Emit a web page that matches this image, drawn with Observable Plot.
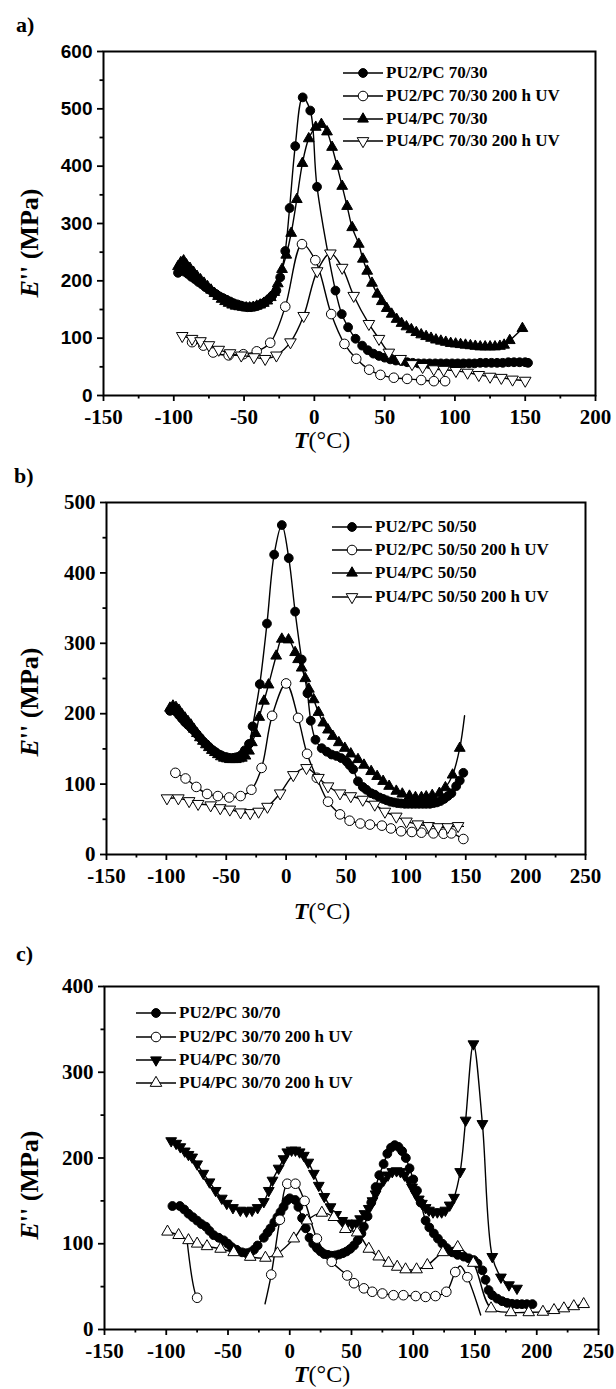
<!DOCTYPE html>
<html>
<head>
<meta charset="utf-8">
<script src="https://cdn.jsdelivr.net/npm/d3@7"></script>
<script src="https://cdn.jsdelivr.net/npm/@observablehq/plot@0.6"></script>
<style>
  body { margin: 0; background: #fff; }
  #root { position: relative; width: 616px; height: 1389px; overflow: hidden; font-family: "Liberation Serif", "Times New Roman", serif; color: #000; background: #fff; }
  .panel { position: absolute; left: 0; width: 616px; }
  .abs { position: absolute; white-space: nowrap; line-height: 1; }
  .plabel { font-weight: bold; font-size: 22px; transform: translate(0, -50%); }
  .ytitle { font-weight: bold; font-size: 26px; transform: translate(-50%, -50%) rotate(-90deg); }
  .xtitle { font-size: 24px; transform: translate(-50%, -50%); }
  .legrow { position: absolute; display: flex; align-items: center; transform: translate(0, -50%); font-weight: bold; font-size: 17px; white-space: nowrap; }
  .legrow svg { display: block; margin-right: 3px; }
</style>
</head>
<body>
<div id="root"></div>
<script>
// ---------------- DATA ----------------
// Panel a) 70/30
const aLegend = ["PU2/PC 70/30", "PU2/PC 70/30 200 h UV", "PU4/PC 70/30", "PU4/PC 70/30 200 h UV"];
const aXTicks = [-150, -100, -50, 0, 50, 100, 150, 200];
const aYTicks = [0, 100, 200, 300, 400, 500, 600];

const aT_PU2 = [-97,-95,-92.5,-90,-87.5,-85,-82.5,-80,-77.5,-75,-72.5,-70,-67.5,-65,-62.5,-60,-57.5,-55,-52.5,-50,-47.5,-45,-42.5,-40,-37.5,-35,-32.5,-30,-27,-24.3,-20.7,-17.6,-13.6,-8.3,-2.9,1.9,15,19.5,24,29.3,34,38,42,46,50,54,58,62,66,70,74,78,82,86,90,94,98,102,106,110,114,118,122,126,130,134,138,142,146,150,152];
const aE_PU2 = [214,218,216,212,207,203,198,194,189,185,181,177,173,170,167,164,161,159,157,155,154,154,155,157,160,163,168,174,183,206,252,327,435,520,497,364,183,142,119,99,87,79,73,69,66,63,61,60,58,57,56,56,56,56,56,56,56,56,56,56,56,57,57,57,57,57,58,58,58,58,57];

const aT_PU2UV = [-87,-79,-72,-61,-50.5,-41,-31.4,-20.7,-8.8,0.7,12,21.4,29.8,39,47,56.5,66,76,85,93];
const aE_PU2UV = [93,87,75,70,72,77,92,155,264,236,142,90,64,45,36,31,29,27,25,25];

const aT_PU4 = [-97,-95,-93,-91,-88.5,-86,-83.5,-81,-78.5,-76,-73.5,-71,-68.5,-66,-63.5,-61,-58.5,-56,-53.5,-51,-48.5,-46,-43.5,-41,-38.5,-36,-33.5,-31,-28.5,-26,-23,-20,-16.5,-12.5,-8.5,-4,1,5,9,12.6,16.2,19.8,23.3,26.9,31.6,34.5,37.6,41,44.8,48,51.5,55,58.5,62,65.5,69,72.5,76,79.5,83,86.5,90,93.5,97,100.5,104,107.5,111,114.5,118,121.5,125,128.5,132,135,139,148];
const aE_PU4 = [225,232,235,228,222,215,208,202,196,190,184,178,173,168,164,161,158,156,155,154,153,153,154,156,158,161,165,171,180,195,220,245,283,342,405,448,468,473,460,433,400,365,330,293,264,238,217,196,177,164,152,142,133,126,120,115,110,106,103,100,97,95,93,91,90,89,88,87,86,85,85,85,85,86,88,96,117];

const aT_PU4UV = [-94,-87,-81,-75,-68,-60,-52,-43,-35,-27,-17,-7.6,2,11.4,19.8,28,38.8,46,53,61.4,69.5,77,85,92,100.7,109,117,125,133,141,150];
const aE_PU4UV = [104,99,95,88,80,74,70,67,64,70,93,139,217,248,223,174,125,99,75,64,55,50,46,45,43,40,36,33,31,28,26];

// Panel b) 50/50
const bLegend = ["PU2/PC 50/50", "PU2/PC 50/50 200 h UV", "PU4/PC 50/50", "PU4/PC 50/50 200 h UV"];
const bXTicks = [-150, -100, -50, 0, 50, 100, 150, 200, 250];
const bYTicks = [0, 100, 200, 300, 400, 500];

const bT_PU2 = [-97,-94.5,-92,-89.5,-87,-84.5,-82,-79.5,-77,-74.5,-72,-69.5,-67,-64.5,-62,-59.5,-57,-54.5,-52,-49.5,-47,-44.5,-42,-39.5,-37,-34.5,-31,-28,-22,-16,-10,-3.6,2.2,7.5,13,17.8,20.6,24.5,29.7,34,38,42,46,50.5,53,56,60,64,67,71,74,78,81,84,87,90,93,96,99,102,105,108,111,114,117,120,123,126,129,132,135,138,142,145,148];
const bE_PU2 = [204,206,203,198,193,188,184,180,176,171,166,161,157,153,149,146,143,141,139,138,137,137,138,139,142,148,157,182,242,328,426,468,421,345,277,229,190,163,151,146,142,140,137,132,127,121,104,96,92,87,85,81,79,77,75,74,73,72.5,72,72,72,72,72,72,72,72,73,74,76,79,83,87,97,105,116];

const bT_PU2UV = [-92.5,-84,-75,-66,-57,-47.5,-38,-29,-20.5,-11.7,0,10,17.5,25.6,35,45,53,62,70,80,87.5,96,105,113,123,131.5,138,148];
const bE_PU2UV = [116,108,96,86,83,81,83,92,123,197,243,194,143,109,75,57,48,44,42.5,41,37,33,32,31,30,29.5,30,22];

const bT_PU4 = [-97,-94.5,-92,-89.5,-87,-84.5,-82,-79.5,-77,-74.5,-72,-69.5,-67,-64.5,-62,-59.5,-57,-54.5,-52,-49.5,-47,-44.5,-42,-39.5,-37,-34,-31,-28.6,-25.5,-22.5,-18.5,-14.7,-8.3,-3.6,2,7.5,10,13,16,19,23,27,31,35,39,44,49,54,60,65,71,76,81,86,92,97,103,108,113,117,122,128,133,139,145,149];
const bE_PU4 = [208,211,209,205,199,194,189,184,178,172,166,161,156,152,148,145,142,139,137,136,135,135,135,136,137,140,147,159,172,195,218,241,282,306,305,287,277,265,250,235,220,202,187,177,168,159,151,143,135,127,118,111,104,97,90,86,83,81,81,82,84,87,95,113,151,197];
const bUnmarked_PU4 = [149];

const bT_PU4UV = [-99.5,-90,-81,-73.5,-63,-55,-47,-38,-30,-23,-15.6,-5,6,17,27,35,45,54,64,74,82.5,92,100.5,110,119,127,135,143.6,148];
const bE_PU4UV = [80,80,76,72,70,66,64,60,59,61,68,87,113,123,109,97,87,83,78,71,61,54,47,43,40.6,39,39,40.6,40];
const bUnmarked_PU4UV = [148];

// Panel c) 30/70
const cLegend = ["PU2/PC 30/70", "PU2/PC 30/70 200 h UV", "PU4/PC 30/70", "PU4/PC 30/70 200 h UV"];
const cXTicks = [-150, -100, -50, 0, 50, 100, 150, 200, 250];
const cYTicks = [0, 100, 200, 300, 400];

const cT_PU2 = [-95,-89,-85.5,-82,-78.5,-75,-71.5,-68,-65,-61.6,-57.5,-53.5,-50,-47,-43,-38.6,-35,-32,-29,-26,-21,-18,-15.6,-12.5,-10,-7.5,-5,-2.5,0,4.5,7,10,13,16,19,22,25,28,31,34,37,40,43,46,49,52,55,58,60,63,66,69.5,72.5,76,79,82,85,88,91,94,97,100,103,106,110,113,116.7,120,123.6,127,131.6,136,141,145,149,152,156,158.5,161,164,168,172,176,180,184,188,192,196.5];
const cE_PU2 = [144,144,140,135,131,127,123,120,115,110,107,104,100,96,93,90,89,90,93,98,107,113,118,125,131,137,143,150,153,151,143,130,118,107,100,95,91,88,87,86,86.5,87.5,89,91,94,98,104,112,120,132,148,166,180,193,205,212,215,213,208,200,188,175,162,148,127,119,112,106,100,95,90,87,85,83,81,77,69,58,46,40,36,33,31,30,29.6,29.5,29.5,29.6];

const cT_PU2UV = [-83,-75,-72,NaN,-20,-15,-8,-2,4.6,12,22,34,46.5,52,60,66.8,75,84,92,102,110,118,126.8,134,138,143.8,154.6];
const cE_PU2UV = [102,37,35,NaN,30,64,128,170,170,150,106,79,63,54,48,44,42,40,40,39,38,39,44,67,74,61,17];
const cUnmarked_PU2UV = [-83,-72,-20,138,154.6];

const cT_PU4 = [-96,-92,-88.6,-85,-82,-79,-75,-70,-65,-60,-55,-51,-46,-40,-35,-30.5,-26,-21,-17,-14,-9,-5,-2,1.5,4.6,8,11.4,15,19.5,23.5,28,33,37.5,42.5,46.5,50.6,54,57,60.5,64,67,69.5,72.5,76,79.5,83,86.5,89.7,93,96.5,99,102,104.5,107,110,112.7,116,119.5,123,126,129.5,133,138,142.4,148.7,156,164,171,177.5,184];
const cE_PU4 = [220,217,213,208,204,201,193,182,172,162,153,147,142,139,138,139,142,149,162,174,188,199,207,209,209,207,203,195,182,168,155,143,134,127,124,123,124,129,135,141,150,158,167,174,180,184,185,184,180,174,166,158,152,147,142,139,137,137,137,139,145,154,184,244,333,240,85,61,52,48];

const cT_PU4UV = [-99,-90,-82,-75,-67,-56,-45.4,-32,-19.7,-10,3.3,14,26,35.7,45,54.6,64,72,80,87,93.8,102.7,111.4,124,136,148.6,163,179,193.5,205,214,222,230,238];
const cE_PU4UV = [114,110,104,100,97,94,90,84.6,83.5,88.6,106,127,136,131,117,113,94,85,77.6,73,70,70,75,90,96,77.6,24.5,20,20,20.5,22.5,24.5,27,29.5];

// ---------------- SYMBOLS ----------------
const sqrt3 = Math.sqrt(3);
const triangleDown = {
  draw(context, size) {
    const y = -Math.sqrt(size / (sqrt3 * 3));
    context.moveTo(0, -y * 2);
    context.lineTo(-sqrt3 * y, y);
    context.lineTo(sqrt3 * y, y);
    context.closePath();
  }
};
const STY = {
  fillCircle: {symbol: "circle", r: 4.4, fill: "black"},
  openCircle: {symbol: "circle", r: 4.8, fill: "white"},
  fillTriUp: {symbol: "triangle", r: 4.0, fill: "black"},
  openTriUp: {symbol: "triangle", r: 4.3, fill: "white"},
  fillTriDown: {symbol: triangleDown, r: 4.0, fill: "black"},
  openTriDown: {symbol: triangleDown, r: 4.3, fill: "white"}
};

function rows(T, E) { return T.map((t, i) => ({T: t, E: E[i]})); }

function seriesMarks(T, E, style, unmarked = []) {
  const data = rows(T, E);
  const marked = data.filter(d => Number.isFinite(d.E) && Number.isFinite(d.T) && !unmarked.includes(d.T));
  return [
    Plot.line(data, {x: "T", y: "E", stroke: "black", strokeWidth: 1.4, curve: "catmull-rom"}),
    Plot.dot(marked, {x: "T", y: "E", symbol: style.symbol, r: style.r, fill: style.fill, stroke: "black", strokeWidth: 1})
  ];
}

function minorBetween(ticks) {
  const out = [];
  for (let i = 0; i < ticks.length - 1; i++) out.push((ticks[i] + ticks[i + 1]) / 2);
  return out;
}

const SERIF = "Liberation Serif, Times New Roman, serif";
const SANS = "Liberation Sans, Arial, sans-serif";
const fmt = d => String(d); // plain hyphen-minus like the reference

function makePanel(opt) {
  return Plot.plot({
    width: 616,
    height: opt.height,
    marginTop: opt.mt, marginBottom: opt.mb, marginLeft: opt.ml, marginRight: opt.mr,
    style: {background: "white", color: "black", fontFamily: SERIF},
    x: {domain: opt.xDomain},
    y: {domain: opt.yDomain},
    marks: [
      Plot.axisX({ticks: opt.xTicks, tickFormat: fmt, tickSize: 6, tickPadding: 8, strokeWidth: 1.8, fontSize: 21, fontWeight: "bold", fontFamily: SERIF, label: null}),
      Plot.axisX({ticks: minorBetween(opt.xTicks), tickSize: 3.5, strokeWidth: 1.8, tickFormat: () => "", label: null}),
      Plot.axisY({ticks: opt.yTicks, tickFormat: fmt, tickSize: 6, tickPadding: 5, strokeWidth: 1.8, fontSize: opt.yFontSize, fontWeight: "bold", fontFamily: opt.yFont, label: null}),
      Plot.axisY({ticks: minorBetween(opt.yTicks), tickSize: 3.5, strokeWidth: 1.8, tickFormat: () => "", label: null}),
      ...opt.series.flatMap(s => seriesMarks(s.T, s.E, s.style, s.unmarked || [])),
      Plot.frame({stroke: "black", strokeWidth: 2})
    ]
  });
}

const root = document.getElementById("root");

function addPanel(top, chart) {
  const div = document.createElement("div");
  div.className = "panel";
  div.style.top = top + "px";
  div.appendChild(chart);
  root.appendChild(div);
}

function addHTML(cls, left, top, html) {
  const el = document.createElement("div");
  el.className = "abs " + cls;
  el.style.left = left + "px";
  el.style.top = top + "px";
  el.innerHTML = html;
  root.appendChild(el);
}

function legendIcon(style) {
  const svg = d3.create("svg").attr("width", 40).attr("height", 14);
  svg.append("line").attr("x1", 0).attr("x2", 40).attr("y1", 7).attr("y2", 7).attr("stroke", "black").attr("stroke-width", 1.6);
  const sym = typeof style.symbol === "string" ? (style.symbol === "circle" ? d3.symbolCircle : d3.symbolTriangle) : style.symbol;
  svg.append("path").attr("transform", "translate(20,7)")
    .attr("d", d3.symbol(sym, Math.PI * style.r * style.r)())
    .attr("fill", style.fill).attr("stroke", "black").attr("stroke-width", 1);
  return svg.node();
}

function addLegend(left, tops, labels, styles) {
  labels.forEach((lab, i) => {
    const row = document.createElement("div");
    row.className = "legrow";
    row.style.left = left + "px";
    row.style.top = tops[i] + "px";
    row.appendChild(legendIcon(styles[i]));
    const span = document.createElement("span");
    span.textContent = lab;
    row.appendChild(span);
    root.appendChild(row);
  });
}

// Panel a
addPanel(0, makePanel({
  height: 460, mt: 51, mb: 65, ml: 103, mr: 21,
  xDomain: [-150, 200], yDomain: [0, 600], xTicks: aXTicks, yTicks: aYTicks,
  yFont: SANS, yFontSize: 19,
  series: [
    {T: aT_PU2, E: aE_PU2, style: STY.fillCircle},
    {T: aT_PU2UV, E: aE_PU2UV, style: STY.openCircle},
    {T: aT_PU4, E: aE_PU4, style: STY.fillTriUp},
    {T: aT_PU4UV, E: aE_PU4UV, style: STY.openTriDown}
  ]
}));

// Panel b
addPanel(460, makePanel({
  height: 470, mt: 42, mb: 76, ml: 106, mr: 31,
  xDomain: [-150, 250], yDomain: [0, 500], xTicks: bXTicks, yTicks: bYTicks,
  yFont: SERIF, yFontSize: 21,
  series: [
    {T: bT_PU2, E: bE_PU2, style: STY.fillCircle},
    {T: bT_PU2UV, E: bE_PU2UV, style: STY.openCircle},
    {T: bT_PU4, E: bE_PU4, style: STY.fillTriUp, unmarked: bUnmarked_PU4},
    {T: bT_PU4UV, E: bE_PU4UV, style: STY.openTriDown, unmarked: bUnmarked_PU4UV}
  ]
}));

// Panel c
addPanel(930, makePanel({
  height: 459, mt: 56, mb: 60, ml: 104, mr: 18,
  xDomain: [-150, 250], yDomain: [0, 400], xTicks: cXTicks, yTicks: cYTicks,
  yFont: SERIF, yFontSize: 21,
  series: [
    {T: cT_PU2, E: cE_PU2, style: STY.fillCircle},
    {T: cT_PU2UV, E: cE_PU2UV, style: STY.openCircle, unmarked: cUnmarked_PU2UV},
    {T: cT_PU4, E: cE_PU4, style: STY.fillTriDown},
    {T: cT_PU4UV, E: cE_PU4UV, style: STY.openTriUp}
  ]
}));

// Panel letters
addHTML("plabel", 16, 25, "a)");
addHTML("plabel", 14, 476, "b)");
addHTML("plabel", 16, 954, "c)");

// Axis titles
const yTitle = '<i>E</i>\'\' (MPa)';
const xTitle = '<b><i>T</i></b>(°C)';
addHTML("ytitle", 30, 243, yTitle);
addHTML("ytitle", 30, 702, yTitle);
addHTML("ytitle", 30, 1185, yTitle);
addHTML("xtitle", 322, 440, xTitle);
addHTML("xtitle", 322, 911, xTitle);
addHTML("xtitle", 322, 1374, xTitle);

// Legends
addLegend(343, [73, 96, 119, 141], aLegend, [STY.fillCircle, STY.openCircle, STY.fillTriUp, STY.openTriDown]);
addLegend(332, [527, 550, 573, 597], bLegend, [STY.fillCircle, STY.openCircle, STY.fillTriUp, STY.openTriDown]);
addLegend(136, [1013, 1037, 1060, 1083], cLegend, [STY.fillCircle, STY.openCircle, STY.fillTriDown, STY.openTriUp]);
</script>
</body>
</html>
